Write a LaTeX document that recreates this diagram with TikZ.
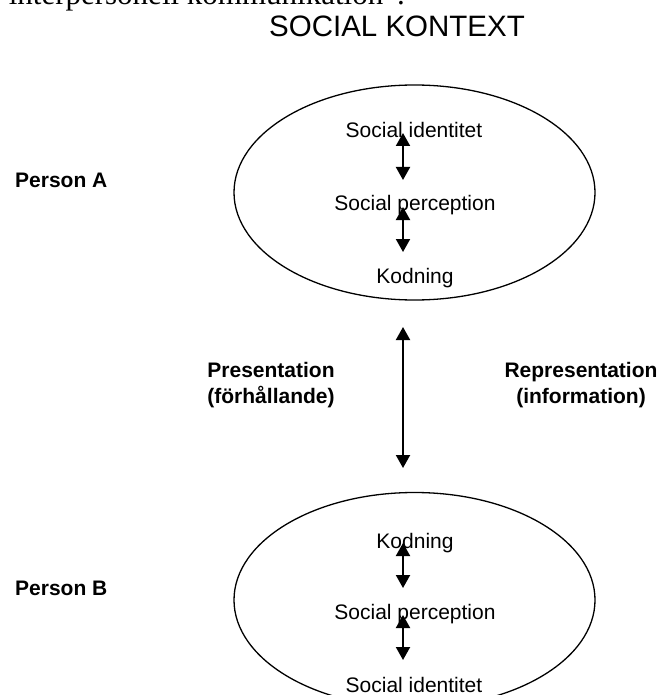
\documentclass[tikz,border=0pt]{standalone}
\usepackage{fontspec}
\setmainfont{Liberation Sans}
\newfontfamily\serifpart{Liberation Serif}
\usetikzlibrary{shapes.geometric,arrows.meta}
\begin{document}
\begin{tikzpicture}[x=1pt,y=-1pt,
  oval/.style={ellipse,draw,line width=1.3pt,minimum width=361pt,minimum height=215pt,inner sep=0pt},
  lbl/.style={font=\fontsize{21}{26}\selectfont,anchor=base,inner sep=0pt},
  blbl/.style={font=\fontsize{21}{26}\selectfont\bfseries,inner sep=0pt,align=center},
  dbl/.style={{Triangle[width=14pt,length=13pt]}-{Triangle[width=14pt,length=13pt]},line width=2pt}]
\useasboundingbox (0,0) rectangle (662,695);
\clip (0,0) rectangle (662,695);

% clipped caption at the very top
\node[anchor=base east,inner sep=0pt,font=\serifpart\fontsize{31}{31}\selectfont] (cap) at (405,5) {interpersonell kommunikation”.};

% title
\node[anchor=base,inner sep=0pt,font=\fontsize{29.5}{30}\selectfont] (title) at (397,37) {SOCIAL KONTEXT};

% person labels
\node[blbl,anchor=base west] (pA) at (15,187) {Person A};
\node[blbl,anchor=base west] (pB) at (15,595) {Person B};

% ellipses
\node[oval] (ellA) at (414.5,192.5) {};
\node[oval] (ellB) at (414.5,600) {};

% Person A contents
\node[lbl] (a1) at (414,138) {Social identitet};
\node[lbl] (a2) at (415,210) {Social perception};
\node[lbl] (a3) at (415,283) {Kodning};

% Person B contents
\node[lbl] (b1) at (415,548) {Kodning};
\node[lbl] (b2) at (415,619) {Social perception};
\node[lbl] (b3) at (414,692) {Social identitet};

% middle labels
\node[blbl] (pres) at (271,385.5) {Presentation\\(förhållande)};
\node[blbl] (repr) at (581,385.5) {Representation\\(information)};

% arrow end points
\coordinate (a1s) at (403,133);
\coordinate (a2n) at (403,180);
\coordinate (a2s) at (403,207);
\coordinate (a3n) at (403,252);
\coordinate (mt) at (403,327);
\coordinate (mb) at (403,468);
\coordinate (b1s) at (403,543);
\coordinate (b2n) at (403,588);
\coordinate (b2s) at (403,615);
\coordinate (b3n) at (403,660);

\draw[dbl] (a1s) -- (a2n);
\draw[dbl] (a2s) -- (a3n);
\draw[dbl] (mt) -- (mb);
\draw[dbl] (b1s) -- (b2n);
\draw[dbl] (b2s) -- (b3n);
\end{tikzpicture}
\end{document}
